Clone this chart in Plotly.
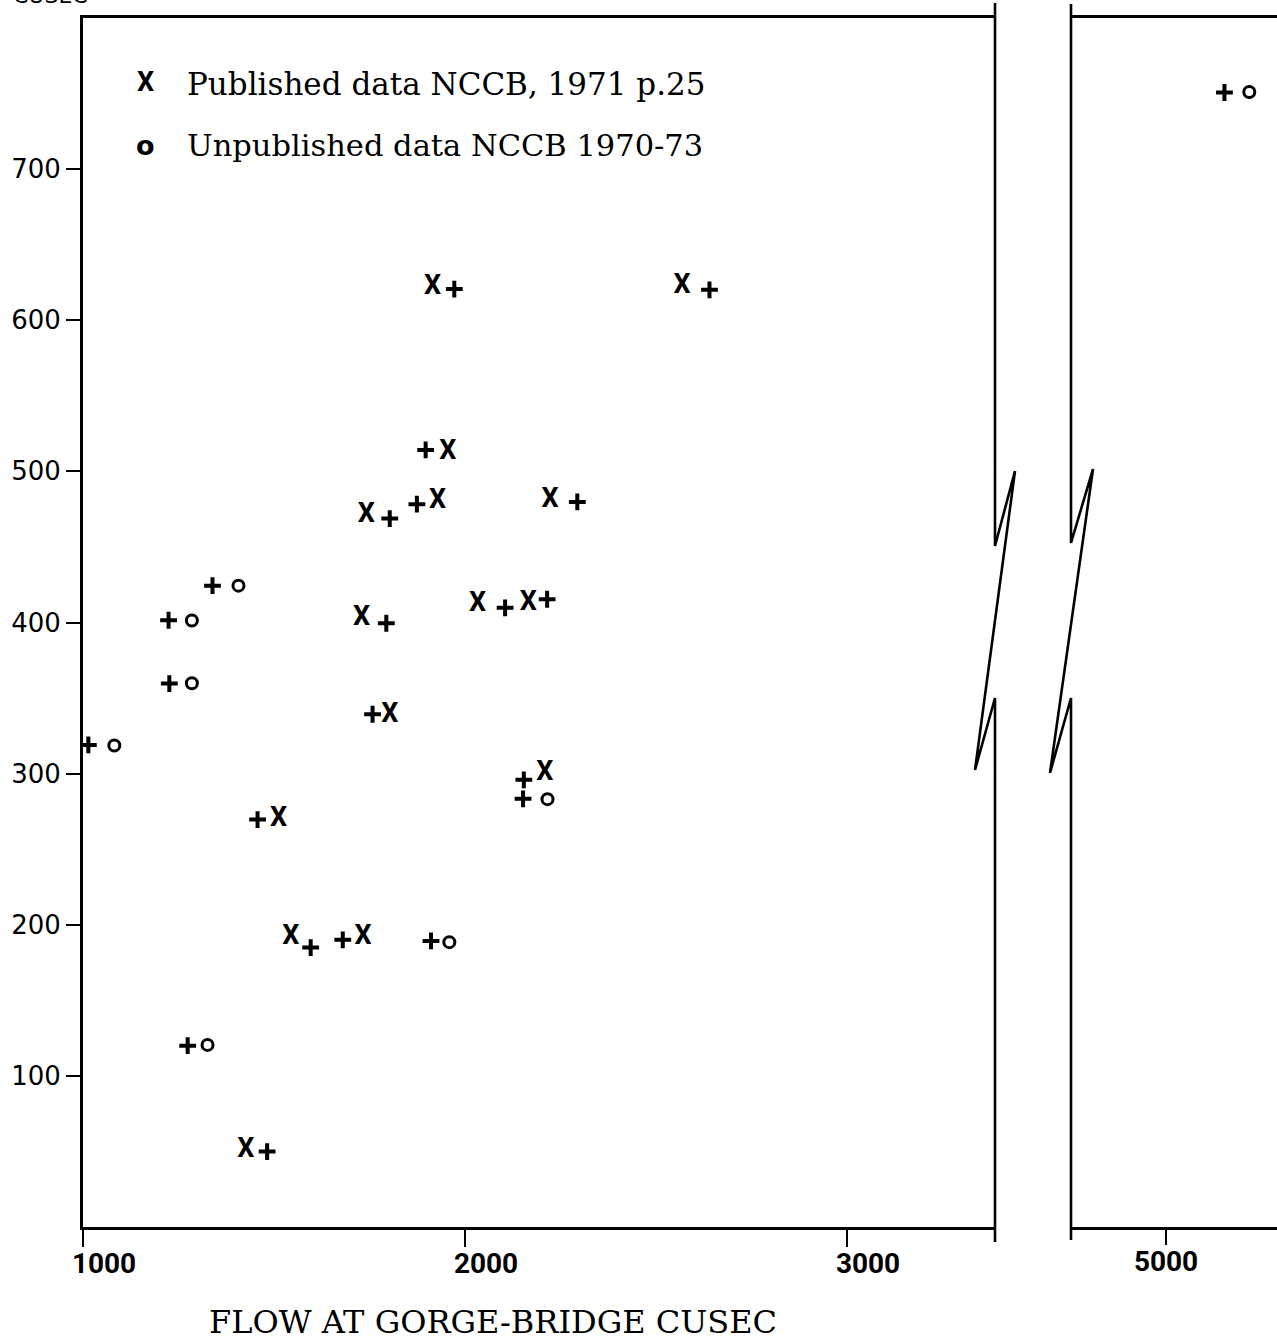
import plotly.graph_objects as go

# ---------------- data ----------------
# Published data NCCB, 1971 p.25  (X)
pub_flow = [1915, 2568, 1955, 1928, 1742, 2223, 2033, 2166, 1729, 1803, 2209, 1512, 1544, 1733, 1426]
pub_val = [621.6, 622.3, 512.7, 480.3, 470.8, 480.7, 412.3, 412.8, 402.7, 338.7, 300.3, 269.6, 191.5, 191.5, 50.6]

# Unpublished data NCCB 1970-73  (o)
unp_flow = [1285, 1407, 1285, 1082, 2216, 1959, 1326, 5218]
unp_val = [401.3, 424.4, 359.8, 318.6, 283.1, 188.5, 120.5, 751.0]

# companion points (+)
plus_flow = [1972, 2640, 1897, 1874, 1803, 2294, 2105, 2215, 1794, 1758, 2154, 2152,
             1457, 1596, 1680, 1911, 1482, 1224, 1339, 1226, 1014, 1274, 5153]
plus_val = [620.6, 620.1, 514.2, 478.3, 468.8, 479.8, 409.7, 415.4, 399.5, 339.3, 295.9, 283.3,
            269.6, 184.9, 190.0, 189.3, 49.9, 401.5, 424.4, 359.6, 319.0, 120.0, 750.7]

y_ticks = [100, 200, 300, 400, 500, 600, 700]
x_ticks_left = [1000, 2000, 3000]
x_ticks_right = [5000]
BREAK_FLOW = 4000

legend_pub = "Published data NCCB, 1971 p.25"
legend_unp = "Unpublished data NCCB 1970-73"
x_title = "FLOW AT GORGE-BRIDGE CUSEC"
y_title = "CUSEC"

# ---------------- layout geometry ----------------
W, H = 1277, 1342
ML, MT, MB = 83, 18, 115
PW, PH = W - ML, H - MT - MB


def xp(px):
    return (px - ML) / PW


def yp(py):
    return (MT + PH - py) / PH


def split(xs, ys):
    left = [(a, b) for a, b in zip(xs, ys) if a < BREAK_FLOW]
    right = [(a, b) for a, b in zip(xs, ys) if a >= BREAK_FLOW]
    return left, right


X_FONT = dict(family="Roboto", size=27, color="black", weight="bold")

fig = go.Figure()

for xs, ys, kind in [(pub_flow, pub_val, "X"), (unp_flow, unp_val, "o"), (plus_flow, plus_val, "+")]:
    left, right = split(xs, ys)
    for pts, xa, ya in [(left, "x", "y"), (right, "x2", "y2")]:
        if not pts:
            continue
        px_ = [p[0] for p in pts]
        py_ = [p[1] for p in pts]
        if kind == "X":
            fig.add_trace(go.Scatter(x=px_, y=py_, mode="text", text=["X"] * len(px_),
                                     textposition="middle center", textfont=X_FONT,
                                     xaxis=xa, yaxis=ya, showlegend=False, hoverinfo="x+y"))
        elif kind == "o":
            fig.add_trace(go.Scatter(x=px_, y=py_, mode="markers",
                                     marker=dict(symbol="circle-open", size=11, color="black",
                                                 line=dict(width=3, color="black")),
                                     xaxis=xa, yaxis=ya, showlegend=False))
        else:
            fig.add_trace(go.Scatter(x=px_, y=py_, mode="markers",
                                     marker=dict(symbol="cross-thin", size=12, color="black",
                                                 line=dict(width=4, color="black")),
                                     xaxis=xa, yaxis=ya, showlegend=False))

left_dom = [0, xp(995)]
right_dom = [xp(1071), 1]
x_left_range = [1000, 1000 + (995 - ML) / 0.382]
x_right_range = [5000 - (1166 - 1071) / 0.382, 5000 + (W - 1166) / 0.382]

tickfont_x = dict(family="Roboto", size=28, color="black", weight="bold")
tickfont_y = dict(family="DejaVu Sans", size=26, color="black")

fig.update_layout(
    width=W, height=H,
    margin=dict(l=ML, r=0, t=MT, b=MB, autoexpand=False),
    paper_bgcolor="white", plot_bgcolor="white",
    showlegend=False,
    xaxis=dict(domain=left_dom, range=x_left_range, tickvals=x_ticks_left,
               ticktext=[str(v) for v in x_ticks_left],
               showline=True, linewidth=3, linecolor="black", mirror=True,
               ticks="outside", ticklen=17, tickwidth=2, tickcolor="black",
               showgrid=False, zeroline=False, tickfont=tickfont_x,
               ticklabelshift=21, ticklabelstandoff=-8),
    yaxis=dict(domain=[0, 1], range=[0, 800], tickvals=y_ticks,
               ticktext=[str(v) for v in y_ticks],
               showline=True, linewidth=3, linecolor="black", mirror=False,
               ticks="outside", ticklen=14, tickwidth=2, tickcolor="black",
               showgrid=False, zeroline=False, tickfont=tickfont_y, ticklabelstandoff=0),
    xaxis2=dict(domain=right_dom, range=x_right_range, anchor="y2", tickvals=x_ticks_right,
                ticktext=[str(v) for v in x_ticks_right],
                showline=True, linewidth=3, linecolor="black", mirror=True,
                ticks="outside", ticklen=15, tickwidth=2, tickcolor="black",
                showgrid=False, zeroline=False, tickfont=tickfont_x, ticklabelstandoff=-8),
    yaxis2=dict(domain=[0, 1], range=[0, 800], anchor="x2", showline=False,
                showticklabels=False, ticks="", showgrid=False, zeroline=False),
)

# axis break zig-zags (paper coordinates from pixel geometry)
def path(points):
    return "M " + " L ".join(f"{xp(a):.5f},{yp(b):.5f}" for a, b in points)

for pts in [
    [(995, 3), (995, 546), (1015, 471), (975, 770), (995, 698), (995, 1242)],
    [(1071, 4), (1071, 543), (1093, 469), (1050, 773), (1071, 698), (1071, 1240)],
]:
    fig.add_shape(type="path", path=path(pts), xref="paper", yref="paper",
                  line=dict(color="black", width=2.6), layer="above")

# legend (as text)
fig.add_annotation(x=xp(145), y=yp(82), xref="paper", yref="paper", text="X", showarrow=False,
                   xanchor="center", yanchor="middle", font=X_FONT)
fig.add_annotation(x=xp(145), y=yp(145), xref="paper", yref="paper", text="<b>o</b>", showarrow=False,
                   xanchor="center", yanchor="middle",
                   font=dict(family="DejaVu Sans", size=27, color="black"))
fig.add_annotation(x=xp(185), y=yp(84), xref="paper", yref="paper", text=legend_pub, showarrow=False,
                   xanchor="left", yanchor="middle",
                   font=dict(family="DejaVu Serif", size=31, color="black"))
fig.add_annotation(x=xp(185), y=yp(145), xref="paper", yref="paper", text=legend_unp, showarrow=False,
                   xanchor="left", yanchor="middle",
                   font=dict(family="DejaVu Serif", size=30.5, color="black"))

# x-axis title
fig.add_annotation(x=xp(493), y=yp(1322), xref="paper", yref="paper", text=x_title, showarrow=False,
                   xanchor="center", yanchor="middle",
                   font=dict(family="DejaVu Serif", size=32, color="black"))

# cropped y-axis title at the very top-left
fig.add_annotation(x=xp(50), y=yp(10), xref="paper", yref="paper", text=y_title, showarrow=False,
                   xanchor="center", yanchor="bottom",
                   font=dict(family="DejaVu Sans", size=22, color="black"))

fig.write_html("out.html", post_script="document.body.style.margin='0px';",
               config={"displayModeBar": False})
